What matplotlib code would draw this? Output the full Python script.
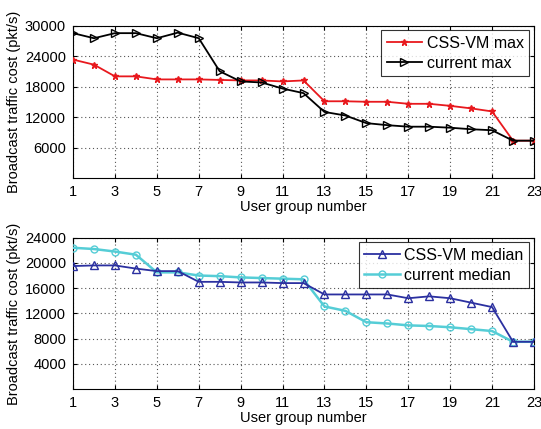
import matplotlib
matplotlib.use("Agg")
import matplotlib.pyplot as plt

plt.rcParams['font.family'] = ['Liberation Sans', 'DejaVu Sans']

groups = list(range(1, 24))

# top panel: maximum broadcast traffic cost
css_vm_max = [23300, 22300, 20000, 20000, 19400, 19400, 19400, 19300, 19200, 19200,
              19000, 19200, 15100, 15100, 15000, 15000, 14600, 14600, 14200, 13700,
              13100, 7350, 7350]
current_max = [28500, 27500, 28500, 28500, 27500, 28600, 27500, 21000, 19000, 18800,
               17600, 16700, 13000, 12300, 10800, 10400, 10100, 10100, 9900, 9600,
               9400, 7350, 7350]

# bottom panel: median broadcast traffic cost
css_vm_median = [19500, 19600, 19600, 19100, 18700, 18700, 17000, 17000, 16900, 16900,
                 16800, 16800, 15000, 15000, 15000, 15000, 14400, 14700, 14400, 13700,
                 13000, 7500, 7500]
current_median = [22400, 22200, 21800, 21300, 18500, 18500, 18000, 17900, 17700, 17600,
                  17500, 17400, 13100, 12400, 10600, 10400, 10100, 10000, 9800, 9500,
                  9200, 7500, 7500]

xticks = list(range(1, 24, 2))
top_yticks = [6000, 12000, 18000, 24000, 30000]
bottom_yticks = [4000, 8000, 12000, 16000, 20000, 24000]

red = '#e8191e'
blue = '#2b30a0'
cyan = '#55cdd6'

fig = plt.figure(figsize=(5.41, 4.29), dpi=100)
ax1 = fig.add_axes([0.135, 0.585, 0.852, 0.3555])
ax2 = fig.add_axes([0.135, 0.093, 0.852, 0.353])

ax1.plot(groups, css_vm_max, color=red, lw=1.3, marker='*', ms=5,
         mec=red, mfc=red, label='CSS-VM max', zorder=3)
ax1.plot(groups, current_max, color='black', lw=1.3, marker='>', ms=5.5,
         mec='black', mfc='none', mew=1.0, label='current max', zorder=4)
ax1.set_ylim(0, 30000)
ax1.set_yticks(top_yticks)

ax2.plot(groups, css_vm_median, color=blue, lw=1.3, marker='^', ms=5.5,
         mec=blue, mfc='none', mew=1.0, label='CSS-VM median', zorder=4)
ax2.plot(groups, current_median, color=cyan, lw=1.8, marker='o', ms=5,
         mec=cyan, mfc='none', mew=1.0, label='current median', zorder=3)
ax2.set_ylim(0, 24000)
ax2.set_yticks(bottom_yticks)

for ax in (ax1, ax2):
    ax.set_xlim(1, 23)
    ax.set_xticks(xticks)
    ax.grid(True, linestyle=(0, (1, 2.5)), color='#555555', lw=0.8)
    ax.tick_params(direction='in', length=3, labelsize=10.5, top=True, right=True, pad=5)
    ax.set_xlabel('User group number', fontsize=10.5, labelpad=1)
    ax.set_ylabel('Broadcast traffic cost (pkt/s)', fontsize=10.5, labelpad=3)
    for s in ax.spines.values():
        s.set_linewidth(0.8)
    leg = ax.legend(loc='upper right', fontsize=11.5, frameon=True, fancybox=False,
                    edgecolor='black', borderaxespad=0.3, handlelength=2.2,
                    handletextpad=0.3, borderpad=0.35, labelspacing=0.3)
    leg.get_frame().set_linewidth(0.8)

fig.savefig('out.png', dpi=100)
